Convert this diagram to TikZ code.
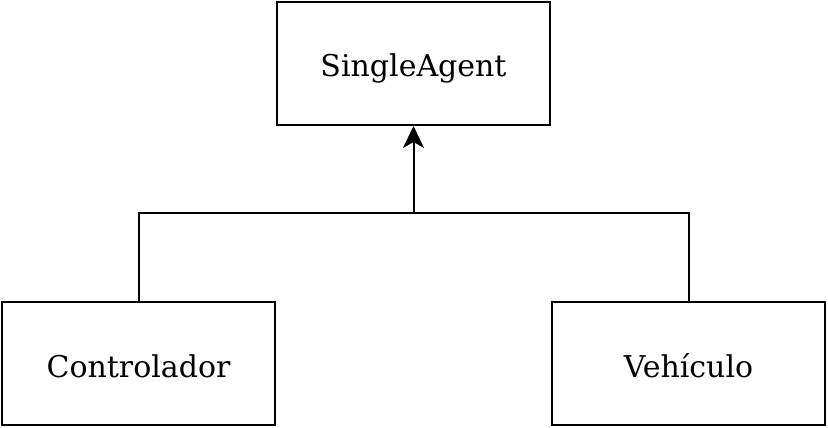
\documentclass[tikz,border=0pt]{standalone}
\usepackage{fontspec}
\setmainfont{DejaVu Serif}
\usetikzlibrary{arrows.meta}

\tikzset{
    clase/.style={draw, line width=2pt, minimum width=273pt, minimum height=123pt,
        inner sep=0pt, text height=27pt, text depth=0pt,
        font=\fontsize{30}{36}\selectfont}
}

\begin{document}
\begin{tikzpicture}[x=1pt, y=1pt]

    \useasboundingbox (0,0) rectangle (828,428);

    \node[clase] (agent) at (413.5, 364.5) {SingleAgent};
    \node[clase] (ctrl)  at (138.5, 64)  {Controlador};
    \node[clase] (veh)   at (688.5, 64)  {Vehículo};

    \coordinate (junta) at (413.5, 215);

    \draw[line width=2pt] (ctrl.north) |- (junta) -| (veh.north);
    \draw[line width=2pt, -{Stealth[length=22pt, width=21pt, inset=6pt]}] (junta) -- (agent.south);

\end{tikzpicture}
\end{document}
